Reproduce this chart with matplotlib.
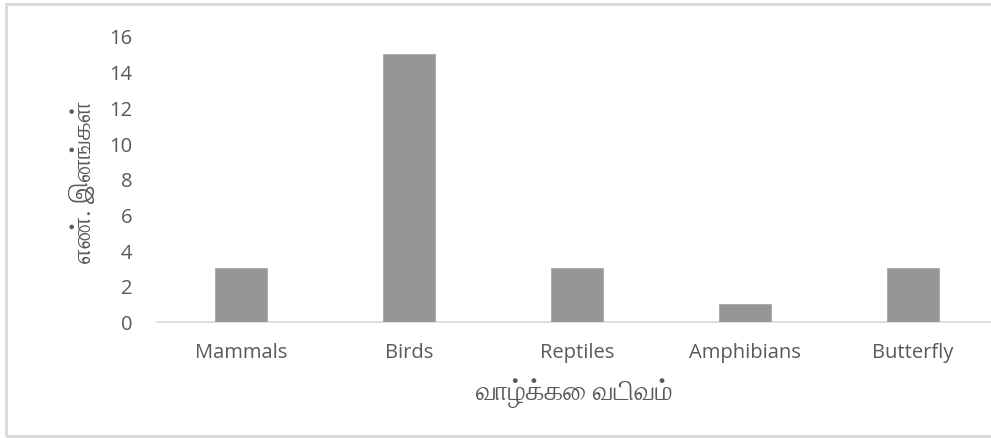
import matplotlib
matplotlib.use("Agg")
import matplotlib.pyplot as plt
from matplotlib.patches import Rectangle

categories = ["Mammals", "Birds", "Reptiles", "Amphibians", "Butterfly"]
values = [3, 15, 3, 1, 3]
yticks = [0, 2, 4, 6, 8, 10, 12, 14, 16]
xlabel = "வாழ்க்கை வடிவம்"
ylabel = "எண். இனங்கள்"

fams = ["FreeSerif", "DejaVu Sans"]

W, H = 991, 439
fig = plt.figure(figsize=(W / 100, H / 100), dpi=100)
fig.patches.append(Rectangle((5.5 / W, 1 - 437 / H), 1.2, (437 - 5) / H,
                             transform=fig.transFigure, fill=False,
                             edgecolor="#d9d9d9", linewidth=2))

left, right = 157 / W, 1.0
bottom, top = 1 - 322.5 / H, 1 - 37 / H
ax = fig.add_axes([left, bottom, right - left, top - bottom])
step = 168
ax.bar(range(len(categories)), values, width=52 / step, color="#969696",
       edgecolor="#a6a6a6", linewidth=0.6, zorder=3)
ax.set_xlim(-0.5, 4.5 - (157 + 5 * step - W) / step)
ax.set_ylim(0, 16)
ax.set_yticks(yticks)
ax.set_xticks(range(len(categories)))
ax.set_xticklabels(categories)
for s in ["top", "right", "left"]:
    ax.spines[s].set_visible(False)
ax.spines["bottom"].set_color("#d9d9d9")
ax.spines["bottom"].set_linewidth(1.2)
ax.tick_params(axis="both", length=0, labelsize=14.5, colors="#595959",
               labelfontfamily="Open Sans")
ax.tick_params(axis="x", pad=15)
ax.tick_params(axis="y", pad=18)

fig.text(574 / W, 1 - 393 / H, xlabel, ha="center", va="center",
         family=fams, fontsize=19.5, color="#595959")
fig.text(84 / W, 1 - 182 / H, ylabel, ha="center", va="center",
         rotation=90, family=fams, fontsize=18.5, color="#595959")

fig.savefig("out.png", dpi=100)
